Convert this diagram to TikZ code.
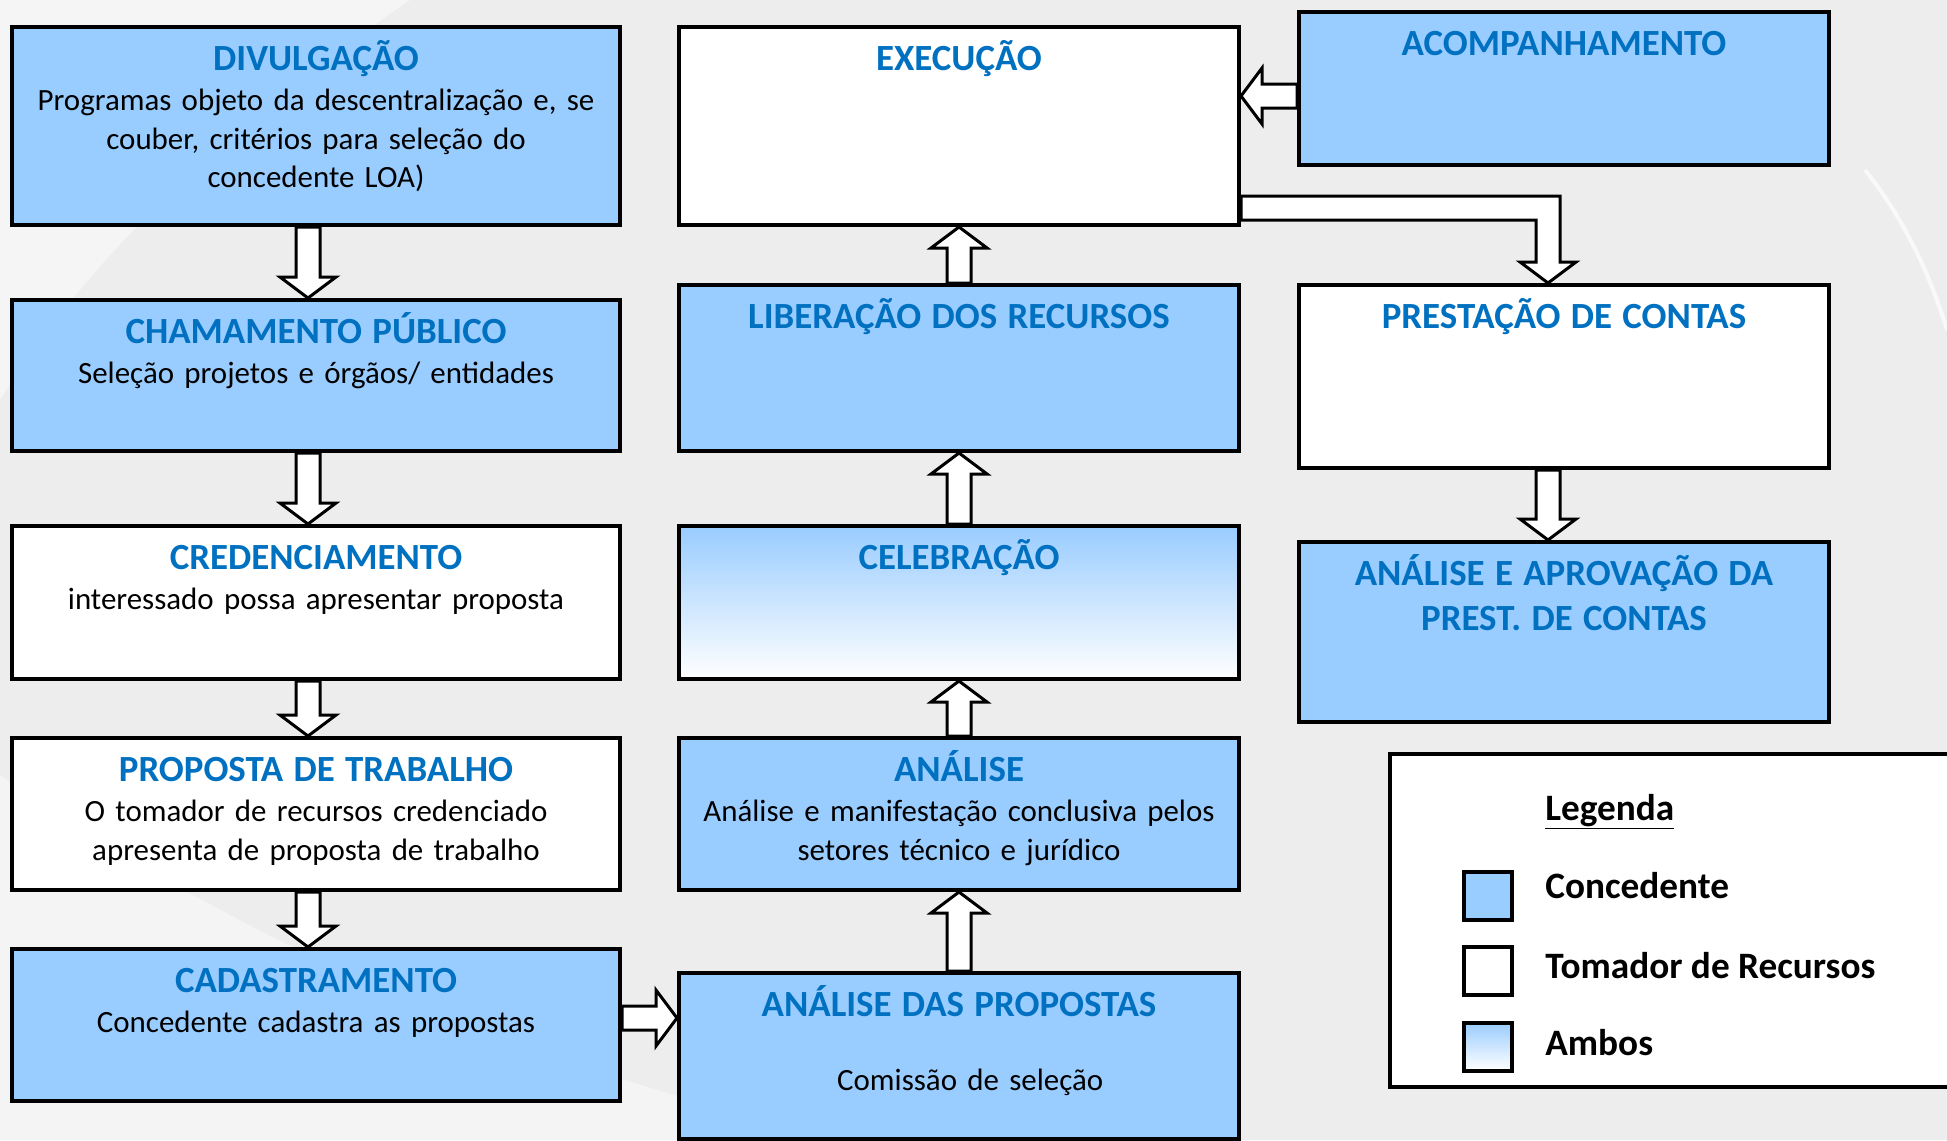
\documentclass[tikz,border=0pt]{standalone}
\usepackage{fontspec}
\setmainfont{Carlito}
\usetikzlibrary{calc}

\definecolor{cblue}{HTML}{99CCFF}
\definecolor{tblue}{HTML}{0070C0}
\definecolor{bggray}{HTML}{EDEDED}

\pgfdeclarelayer{background}
\pgfdeclarelayer{arrows}
\pgfsetlayers{background,arrows,main}

% box title
\newcommand\ttl[1]{{\fontsize{21pt}{21.9pt}\selectfont\bfseries\color{tblue}#1}}
% white block arrow, #1 = start, #2 = tip
\newcommand\blockarrow[2]{%
  \path #1 coordinate (ba-s);
  \path #2 coordinate (ba-t);
  \path ($(ba-t)!0.42cm!(ba-s)$) coordinate (ba-b);
  \draw[fatarrow] ($(ba-s)!0.24cm!90:(ba-t)$) -- ($(ba-b)!0.24cm!-90:(ba-s)$)
    -- ($(ba-b)!0.56cm!-90:(ba-s)$) -- (ba-t) -- ($(ba-b)!0.56cm!90:(ba-s)$)
    -- ($(ba-b)!0.24cm!90:(ba-s)$) -- ($(ba-s)!0.24cm!-90:(ba-t)$) -- cycle;}

\begin{document}
\begin{tikzpicture}[
        every node/.style={font=\fontsize{17.6pt}{21.9pt}\selectfont},
        box/.style={draw, line width=0.08cm, anchor=north, align=center, inner xsep=0pt, inner ysep=0pt, text height=0.87cm},
        conc/.style={box, fill=cblue},
        toma/.style={box, fill=white},
        ambos/.style={box, top color=cblue, bottom color=white},
        colL/.style={text width=12.16cm},
        colM/.style={text width=11.2cm},
        colR/.style={text width=10.6cm},
        fatarrow/.style={draw, line width=0.06cm, fill=white, line join=miter},
        swatch/.style={draw, line width=0.08cm, minimum size=0.96cm, inner sep=0pt},
        legtext/.style={anchor=base west, inner sep=0pt, font=\fontsize{21.2pt}{22pt}\selectfont\bfseries}
    ]
        \useasboundingbox (0,0) rectangle (38.94,-22.8);
        \clip (0,0) rectangle (38.94,-22.8);

        % Background
        \begin{pgfonlayer}{background}
        \fill[bggray] (0,0) rectangle (38.94,-22.8);
        \fill[white, opacity=0.45] (0,0) -- (8.2,0) .. controls (5,-2.2) and (2,-4.8) .. (0,-8) -- cycle;
        \fill[white, opacity=0.4] (0,-15.5) .. controls (5,-19) and (11,-21.5) .. (17,-22.8) -- (0,-22.8) -- cycle;
        \draw[white, line width=0.08cm, opacity=0.7] (37.3,-3.4) .. controls (38.1,-4.4) and (38.6,-5.5) .. (38.94,-6.6);
        \end{pgfonlayer}

        % Nodes
        \node[conc, colL, text depth=3.09cm] (div) at (6.32,-0.5) {\ttl{DIVULGAÇÃO}\\[0.04cm]
            Programas objeto da descentralização e, se\\ couber, critérios para seleção do\\ concedente LOA)};
        \node[conc, colL, text depth=2.15cm] (cham) at (6.32,-5.96) {\ttl{CHAMAMENTO PÚBLICO}\\[0.04cm]
            Seleção projetos e órgãos/ entidades};
        \node[toma, colL, text depth=2.19cm] (cred) at (6.32,-10.48) {\ttl{CREDENCIAMENTO}\\[0.04cm]
            interessado possa apresentar proposta};
        \node[toma, colL, text depth=2.17cm] (prop) at (6.32,-14.72) {\ttl{PROPOSTA DE TRABALHO}\\[0.04cm]
            O tomador de recursos credenciado\\ apresenta de proposta de trabalho};
        \node[conc, colL, text depth=2.17cm] (cad) at (6.32,-18.94) {\ttl{CADASTRAMENTO}\\[0.04cm]
            Concedente cadastra as propostas};

        \node[toma, colM, text depth=3.09cm] (exec) at (19.18,-0.5) {\ttl{EXECUÇÃO}};
        \node[conc, colM, text depth=2.45cm] (lib) at (19.18,-5.66) {\ttl{LIBERAÇÃO DOS RECURSOS}};
        \node[ambos, colM, text depth=2.19cm] (cel) at (19.18,-10.48) {\ttl{CELEBRAÇÃO}};
        \node[conc, colM, text depth=2.17cm] (ana) at (19.18,-14.72) {\ttl{ANÁLISE}\\[0.04cm]
            Análise e manifestação conclusiva pelos\\ setores técnico e jurídico};
        \node[conc, colM, text depth=2.45cm] (adp) at (19.18,-19.42) {\ttl{ANÁLISE DAS PROPOSTAS}\\[0.71cm]
            \hspace*{0.45cm}Comissão de seleção};

        \node[conc, colR, text depth=2.19cm] (acomp) at (31.28,-0.2) {\ttl{ACOMPANHAMENTO}};
        \node[toma, colR, text depth=2.79cm] (pc) at (31.28,-5.66) {\ttl{PRESTAÇÃO DE CONTAS}};
        \node[conc, colR, text depth=2.73cm] (aap) at (31.28,-10.8) {\ttl{ANÁLISE E APROVAÇÃO DA}\\[0.13cm]
            \ttl{PREST. DE CONTAS}};

        % Legend
        \node[draw, line width=0.08cm, fill=white, anchor=north west, minimum width=12cm, minimum height=6.66cm] (leg) at (27.76,-15.04) {};
        \node[legtext] (legt) at (30.9,-16.4) {\underline{Legenda}};
        \node[swatch, fill=cblue] (sw1) at (29.76,-17.92) {};
        \node[legtext] (lt1) at (30.9,-17.96) {Concedente};
        \node[swatch, fill=white] (sw2) at (29.76,-19.42) {};
        \node[legtext] (lt2) at (30.9,-19.56) {Tomador de Recursos};
        \node[swatch, top color=cblue, bottom color=white] (sw3) at (29.76,-20.93) {};
        \node[legtext] (lt3) at (30.9,-21.1) {Ambos};

        % Arrows
        \begin{pgfonlayer}{arrows}
        \blockarrow{([xshift=-0.16cm]div.south)}{([xshift=-0.16cm]cham.north)}
        \blockarrow{([xshift=-0.16cm]cham.south)}{([xshift=-0.16cm]cred.north)}
        \blockarrow{([xshift=-0.16cm]cred.south)}{([xshift=-0.16cm]prop.north)}
        \blockarrow{([xshift=-0.16cm]prop.south)}{([xshift=-0.16cm]cad.north)}

        \coordinate (cadout) at ([yshift=0.14cm]cad.east);
        \blockarrow{(cadout)}{(cadout -| adp.west)}

        \blockarrow{(adp.north)}{(ana.south)}
        \blockarrow{(ana.north)}{(cel.south)}
        \blockarrow{(cel.north)}{(lib.south)}
        \blockarrow{(lib.north)}{(exec.south)}

        \coordinate (acout) at ([yshift=-0.15cm]acomp.west);
        \blockarrow{(acout)}{(acout -| exec.east)}

        \coordinate (exout) at ([yshift=0.38cm]exec.south east);
        \coordinate (pcin) at ([xshift=-0.32cm]pc.north);
        \coordinate (bend) at (pcin |- exout);
        \draw[fatarrow] ($(exout)+(0,0.24)$) -- ($(bend)+(0.24,0.24)$) -- ($(pcin)+(0.24,0.42)$)
            -- ($(pcin)+(0.56,0.42)$) -- (pcin) -- ($(pcin)+(-0.56,0.42)$) -- ($(pcin)+(-0.24,0.42)$)
            -- ($(bend)+(-0.24,-0.24)$) -- ($(exout)+(0,-0.24)$) -- cycle;

        \blockarrow{([xshift=-0.32cm]pc.south)}{([xshift=-0.32cm]aap.north)}
        \end{pgfonlayer}

    \end{tikzpicture}
\end{document}
